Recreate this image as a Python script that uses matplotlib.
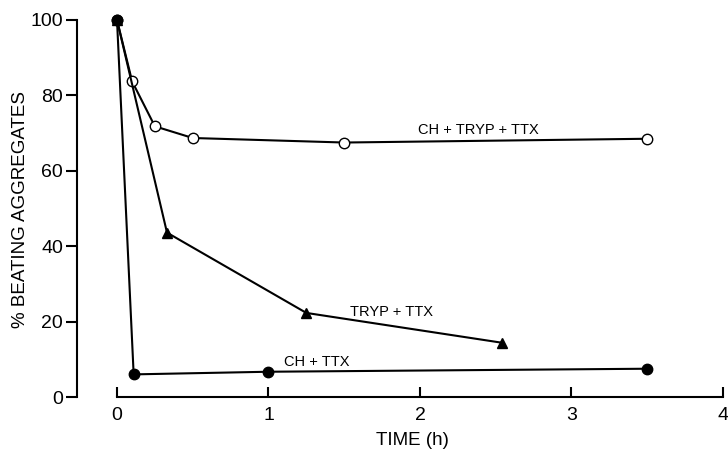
import matplotlib
matplotlib.use("Agg")
import matplotlib.pyplot as plt

# Data
t_ch_tryp_ttx = [0, 0.1, 0.25, 0.5, 1.5, 3.5]
v_ch_tryp_ttx = [100, 83.7, 71.8, 68.7, 67.5, 68.5]

t_tryp_ttx = [0, 0.33, 1.25, 2.54]
v_tryp_ttx = [100, 43.6, 22.3, 14.4]

t_ch_ttx = [0, 0.11, 1.0, 3.5]
v_ch_ttx = [100, 6.0, 6.7, 7.5]

xticks = [0, 1, 2, 3, 4]
yticks = [0, 20, 40, 60, 80, 100]

plt.rcParams['font.family'] = ['Liberation Sans', 'DejaVu Sans']

fig = plt.figure(figsize=(7.28, 4.49), dpi=100)
W, H = 728, 449
left_px, right_px = 77, 728
top_px, bot_px = 20, 397
ax = fig.add_axes([left_px / W, 1 - bot_px / H, (right_px - left_px) / W, (bot_px - top_px) / H])

ax.set_xlim(-0.264, 4.033)
ax.set_ylim(0, 100)

lw = 1.5
ax.plot(t_ch_tryp_ttx, v_ch_tryp_ttx, '-', color='black', lw=lw, marker='o',
        markerfacecolor='white', markeredgecolor='black', markersize=7.5, markeredgewidth=1.0, clip_on=False, zorder=3)
ax.plot(t_tryp_ttx, v_tryp_ttx, '-', color='black', lw=lw, marker='^',
        markerfacecolor='black', markersize=7, clip_on=False, zorder=3)
ax.plot(t_ch_ttx, v_ch_ttx, '-', color='black', lw=lw, marker='o',
        markerfacecolor='black', markersize=7.5, clip_on=False, zorder=4)

ax.text(1.99, 70.9, 'CH + TRYP + TTX', fontsize=10.5, ha='left', va='center')
ax.text(1.54, 22.6, 'TRYP + TTX', fontsize=10.5, ha='left', va='center')
ax.text(1.10, 9.3, 'CH + TTX', fontsize=10.5, ha='left', va='center')

for s in ['top', 'right']:
    ax.spines[s].set_visible(False)
ax.spines['left'].set_bounds(0, 100)
ax.spines['bottom'].set_bounds(0, 4)
ax.spines['left'].set_linewidth(1.5)
ax.spines['bottom'].set_linewidth(1.5)

ax.set_xticks(xticks)
ax.set_yticks(yticks)
ax.tick_params(axis='y', direction='out', length=8, width=1.5, labelsize=14, pad=2)
ax.tick_params(axis='x', direction='in', length=7, width=1.5, labelsize=14, pad=7)

ax.set_xlabel('TIME (h)', fontsize=13.5)
ax.set_ylabel('% BEATING AGGREGATES', fontsize=13.5)
ax.xaxis.set_label_coords((412 - left_px) / (right_px - left_px), (397 - 432) / (bot_px - top_px))
ax.yaxis.set_label_coords((29 - left_px) / (right_px - left_px), (397 - 210) / (bot_px - top_px))

fig.savefig('out.png', dpi=100)
